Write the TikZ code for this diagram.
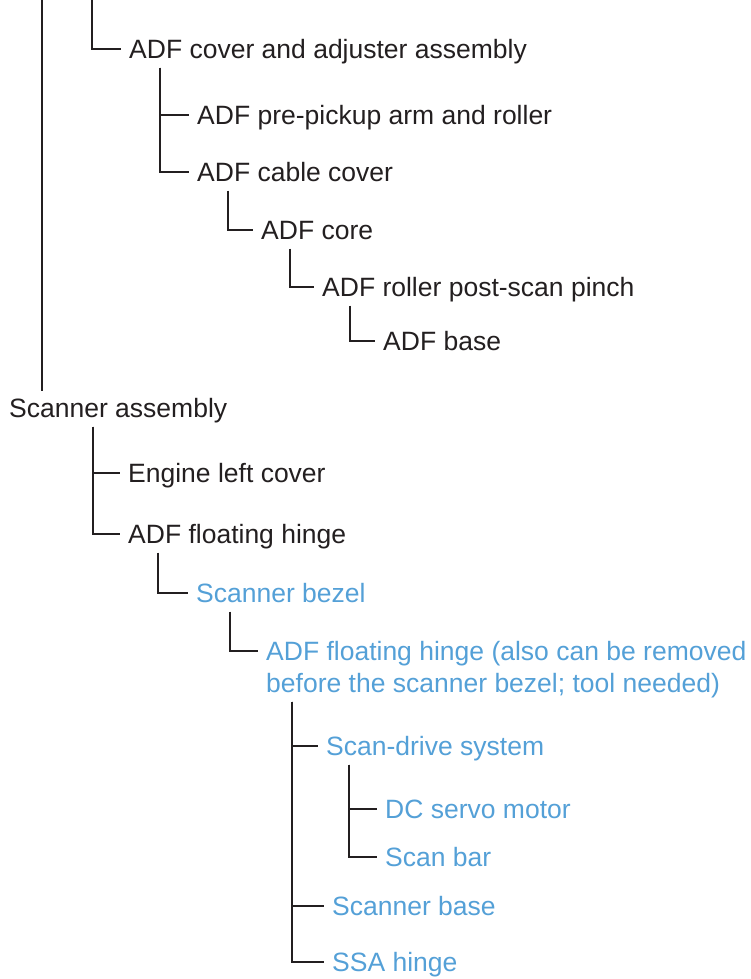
\documentclass[tikz,border=0pt]{standalone}
\usepackage{fontspec}
\setmainfont{Liberation Sans}
\usetikzlibrary{positioning}
\definecolor{ink}{RGB}{35,31,32}
\definecolor{hpblue}{RGB}{84,160,215}

\begin{document}
\begin{tikzpicture}[x=1pt,y=-1pt,
  every node/.style={anchor=west, inner xsep=8pt, inner ysep=0pt,
    text height=28pt, text depth=9pt, text=ink,
    font=\fontsize{26.5}{32}\selectfont},
  part/.style={text=hpblue},
  link/.style={draw=ink, line width=1.7pt}]
  \useasboundingbox (0,0) rectangle (751,979);

  % ADF part
  \coordinate (topL) at (42,0);
  \coordinate (topM) at (92,0);
  \node (cover) at (121,49) {ADF cover and adjuster assembly};
  \node (pickup) at (189,115) {ADF pre-pickup arm and roller};
  \node (cable) at (189,172) {ADF cable cover};
  \node (core) at (253,230) {ADF core};
  \node (pinch) at (314,287) {ADF roller post-scan pinch};
  \node (adfbase) at (375,341) {ADF base};

  \draw[link] (topM) |- (cover.west);
  \draw[link] (160,0 |- cover.south) |- (pickup.west);
  \draw[link] (160,0 |- cover.south) |- (cable.west);
  \draw[link] (228,0 |- cable.south) |- (core.west);
  \draw[link] (290,0 |- core.south) |- (pinch.west);
  \draw[link] (350,0 |- pinch.south) |- (adfbase.west);

  % scanner part
  \node (scanner) at (1,408) {Scanner assembly};
  \node (engine) at (120,473) {Engine left cover};
  \node (hinge) at (120,534) {ADF floating hinge};
  \node[part] (bezel) at (188,593) {Scanner bezel};
  \node[part] (hingetool) at (258,651) {ADF floating hinge (also can be removed};
  \node[part] (hingetoolb) at (258,683) {before the scanner bezel; tool needed)};
  \node[part] (scandrive) at (318,746) {Scan-drive system};
  \node[part] (servo) at (377,809) {DC servo motor};
  \node[part] (scanbar) at (377,857) {Scan bar};
  \node[part] (scanbase) at (324,906) {Scanner base};
  \node[part] (ssa) at (324,962) {SSA hinge};

  \draw[link, line width=1.3pt] (topL) -- ([yshift=-2pt]topL |- scanner.north);
  \draw[link] (93,0 |- scanner.south) |- (engine.west);
  \draw[link] (93,0 |- scanner.south) |- (hinge.west);
  \draw[link] (158,0 |- hinge.south) |- (bezel.west);
  \draw[link] (230,0 |- bezel.south) |- (hingetool.west);
  \foreach \c in {scandrive,scanbase,ssa}
    \draw[link] (292,0 |- hingetoolb.south) |- (\c.west);
  \foreach \c in {servo,scanbar}
    \draw[link] (349,0 |- scandrive.south) |- (\c.west);
\end{tikzpicture}
\end{document}
